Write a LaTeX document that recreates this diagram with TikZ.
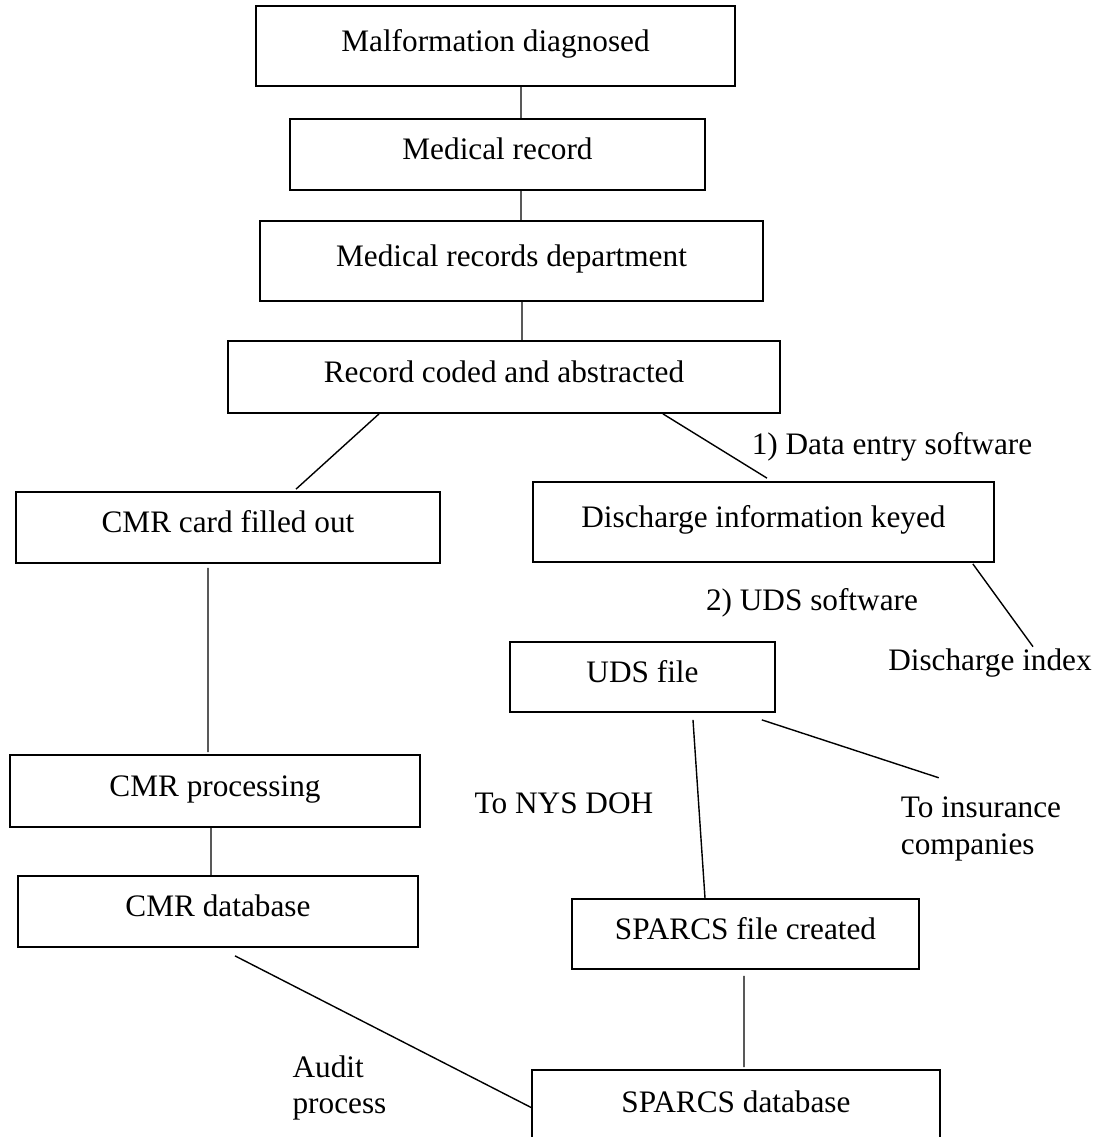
\documentclass[tikz,border=0pt]{standalone}
\usepackage{fontspec}
\setmainfont{Liberation Serif}
\begin{document}
\begin{tikzpicture}[
    squarednode/.style={rectangle, draw=black, line width=1pt, inner sep=0pt, text height=0.5cm, text depth=0.3cm},
    textnode/.style={align=left, inner sep=1pt},
    x=0.02cm, y=-0.02cm,
    font=\fontsize{17.8}{21}\selectfont
  ]
  \useasboundingbox (0,0) rectangle (1095,1137);

  %Nodes
  \node[squarednode, minimum width=9.58cm, minimum height=1.6cm] at (495.5,46) (A) {Malformation diagnosed};
  \node[squarednode, minimum width=8.3cm, minimum height=1.42cm] at (497.5,154.5) (B) {Medical record};
  \node[squarednode, minimum width=10.06cm, minimum height=1.6cm] at (511.5,261) (C) {Medical records department};
  \node[squarednode, minimum width=11.04cm, minimum height=1.44cm] at (504,377) (D) {Record coded and abstracted};
  \node[squarednode, minimum width=8.48cm, minimum height=1.42cm] at (228,527.5) (E) {CMR card filled out};
  \node[squarednode, minimum width=9.22cm, minimum height=1.6cm] at (763.5,522) (F) {Discharge information keyed};
  \node[squarednode, minimum width=5.3cm, minimum height=1.4cm] at (642.5,677) (G) {UDS file};
  \node[squarednode, minimum width=8.2cm, minimum height=1.44cm] at (215,791) (H) {CMR processing};
  \node[squarednode, minimum width=8.0cm, minimum height=1.42cm] at (218,911.5) (I) {CMR database};
  \node[squarednode, minimum width=6.94cm, minimum height=1.4cm] at (745.5,934) (J) {SPARCS file created};
  \node[squarednode, minimum width=8.16cm, minimum height=1.5cm] at (736,1107.5) (K) {SPARCS database};

  %Labels
  \node[textnode] at (892,447) (L1) {1) Data entry software};
  \node[textnode] at (812,603) (L2) {2) UDS software};
  \node[textnode] at (990,663) (L3) {Discharge index};
  \node[textnode] at (564,803) (L4) {To NYS DOH};
  \node[textnode] at (981,829) (L5) {To insurance\\companies};
  \node[textnode] at (339.5,1088) (L6) {Audit\\process};

  %Lines
  \draw[thick] ([xshift=0.51cm]A.south) -- ([xshift=0.47cm]B.north);
  \draw[thick] ([xshift=0.47cm]B.south) -- ([xshift=0.19cm]C.north);
  \draw[thick] ([xshift=0.21cm]C.south) -- ([xshift=0.36cm]D.north);
  \draw[thick] ([xshift=-2.5cm]D.south) -- ([xshift=1.36cm,yshift=0.04cm]E.north);
  \draw[thick] ([xshift=3.18cm]D.south) -- ([xshift=0.07cm,yshift=0.06cm]F.north);
  \draw[thick] ([xshift=-0.44cm,yshift=-0.02cm]F.south east) -- ([xshift=0.86cm]L3.north);
  \draw[thick] ([xshift=-0.4cm,yshift=-0.08cm]E.south) -- ([xshift=-0.14cm,yshift=0.04cm]H.north);
  \draw[thick] ([xshift=-0.08cm]H.south) -- ([xshift=-0.14cm]I.north);
  \draw[thick] ([xshift=1.01cm,yshift=-0.14cm]G.south) -- ([xshift=-0.81cm]J.north);
  \draw[thick] ([xshift=-0.28cm,yshift=-0.14cm]G.south east) -- ([xshift=0.8cm,yshift=0.34cm]L5.north west);
  \draw[thick] ([xshift=-0.03cm,yshift=-0.12cm]J.south) -- ([xshift=0.16cm,yshift=0.04cm]K.north);
  \draw[thick] ([xshift=0.34cm,yshift=-0.16cm]I.south) -- (K.west);

\end{tikzpicture}
\end{document}
